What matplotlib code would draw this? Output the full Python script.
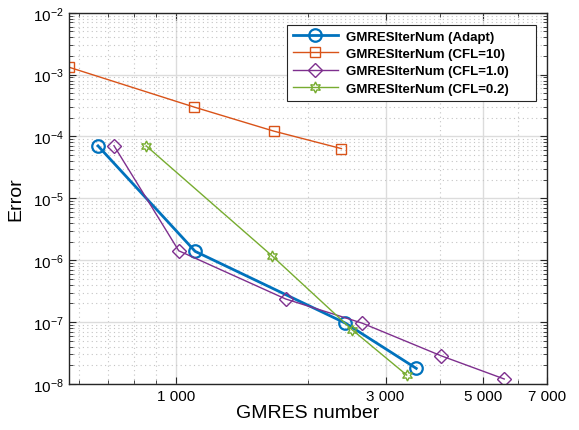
import numpy as np
import matplotlib
matplotlib.use("Agg")
import matplotlib.pyplot as plt
from matplotlib.ticker import FixedLocator, FixedFormatter, LogFormatterSciNotation, NullFormatter

plt.rcParams['font.family'] = ['Liberation Sans', 'DejaVu Sans']
plt.rcParams['mathtext.fontset'] = 'custom'
plt.rcParams['mathtext.rm'] = 'Liberation Sans'

# GMRES iteration counts vs. error for each time-step strategy
adapt_iters = [664, 1105, 2430, 3524]
adapt_err = [7.05e-5, 1.39e-6, 9.6e-8, 1.78e-8]

cfl10_iters = [570, 1101, 1670, 2380]
cfl10_err = [1.32e-3, 2.98e-4, 1.22e-4, 6.37e-5]

cfl1_iters = [722, 1014, 1776, 2653, 4012, 5589]
cfl1_err = [7.1e-5, 1.42e-6, 2.36e-7, 9.6e-8, 2.85e-8, 1.2e-8]

cfl02_iters = [855, 1653, 2517, 3351]
cfl02_err = [7.05e-5, 1.18e-6, 7.5e-8, 1.39e-8]

xticks = [1000, 3000, 5000, 7000]
xticklabels = ['1 000', '3 000', '5 000', '7 000']
xminor = [600, 700, 800, 900, 2000, 4000, 6000]
yticks = [1e-8, 1e-7, 1e-6, 1e-5, 1e-4, 1e-3, 1e-2]

fig = plt.figure(figsize=(5.79, 4.31), dpi=100)
ax = fig.add_axes([0.119, 0.107, 0.826, 0.861])

ax.plot(adapt_iters, adapt_err, '-o', color='#0072BD', lw=2, ms=9,
        mfc='none', mew=1.6, label='GMRESIterNum (Adapt)')
ax.plot(cfl10_iters, cfl10_err, '-s', color='#D95319', lw=1, ms=7,
        mfc='none', mew=1, label='GMRESIterNum (CFL=10)')
ax.plot(cfl1_iters, cfl1_err, '-D', color='#7E2F8E', lw=1, ms=7,
        mfc='none', mew=1, label='GMRESIterNum (CFL=1.0)')
ax.plot(cfl02_iters, cfl02_err, '-', color='#77AC30', lw=1, ms=8,
        mfc='none', mew=1, marker=(6, 1, 0), label='GMRESIterNum (CFL=0.2)')

ax.set_xscale('log')
ax.set_yscale('log')
ax.set_xlim(570, 7000)
ax.set_ylim(1e-8, 1e-2)

ax.xaxis.set_major_locator(FixedLocator(xticks))
ax.xaxis.set_major_formatter(FixedFormatter(xticklabels))
ax.xaxis.set_minor_locator(FixedLocator(xminor))
ax.xaxis.set_minor_formatter(NullFormatter())

yminor = [m * d for d in yticks[:-1] for m in range(2, 10)]
ax.yaxis.set_major_locator(FixedLocator(yticks))
ax.yaxis.set_major_formatter(LogFormatterSciNotation())
ax.yaxis.set_minor_locator(FixedLocator(yminor))
ax.yaxis.set_minor_formatter(NullFormatter())

ax.grid(True, which='major', color='#dcdcdc', lw=1, ls='-')
ax.grid(True, which='minor', color='#c4c4c4', lw=0.8, ls=(0, (1, 3)))
ax.set_axisbelow(True)

ax.tick_params(which='both', direction='in', top=True, right=True,
               labelsize=11, color='#262626')
ax.tick_params(which='major', length=5)
ax.tick_params(which='minor', length=3)
for s in ax.spines.values():
    s.set_color('#262626')
    s.set_linewidth(1)

ax.set_xlabel('GMRES number', fontsize=14, labelpad=1)
ax.set_ylabel('Error', fontsize=14, labelpad=6)

leg = ax.legend(loc='upper left', bbox_to_anchor=(0.456, 0.968, 0.521, 0.0),
                mode='expand', prop={'weight': 'bold', 'size': 9.5},
                fancybox=False, framealpha=1, edgecolor='#262626',
                borderpad=0.45, handlelength=3.4, handletextpad=0.6,
                labelspacing=0.38, borderaxespad=0)
leg.get_frame().set_linewidth(0.8)

fig.savefig('out.png', dpi=100)
